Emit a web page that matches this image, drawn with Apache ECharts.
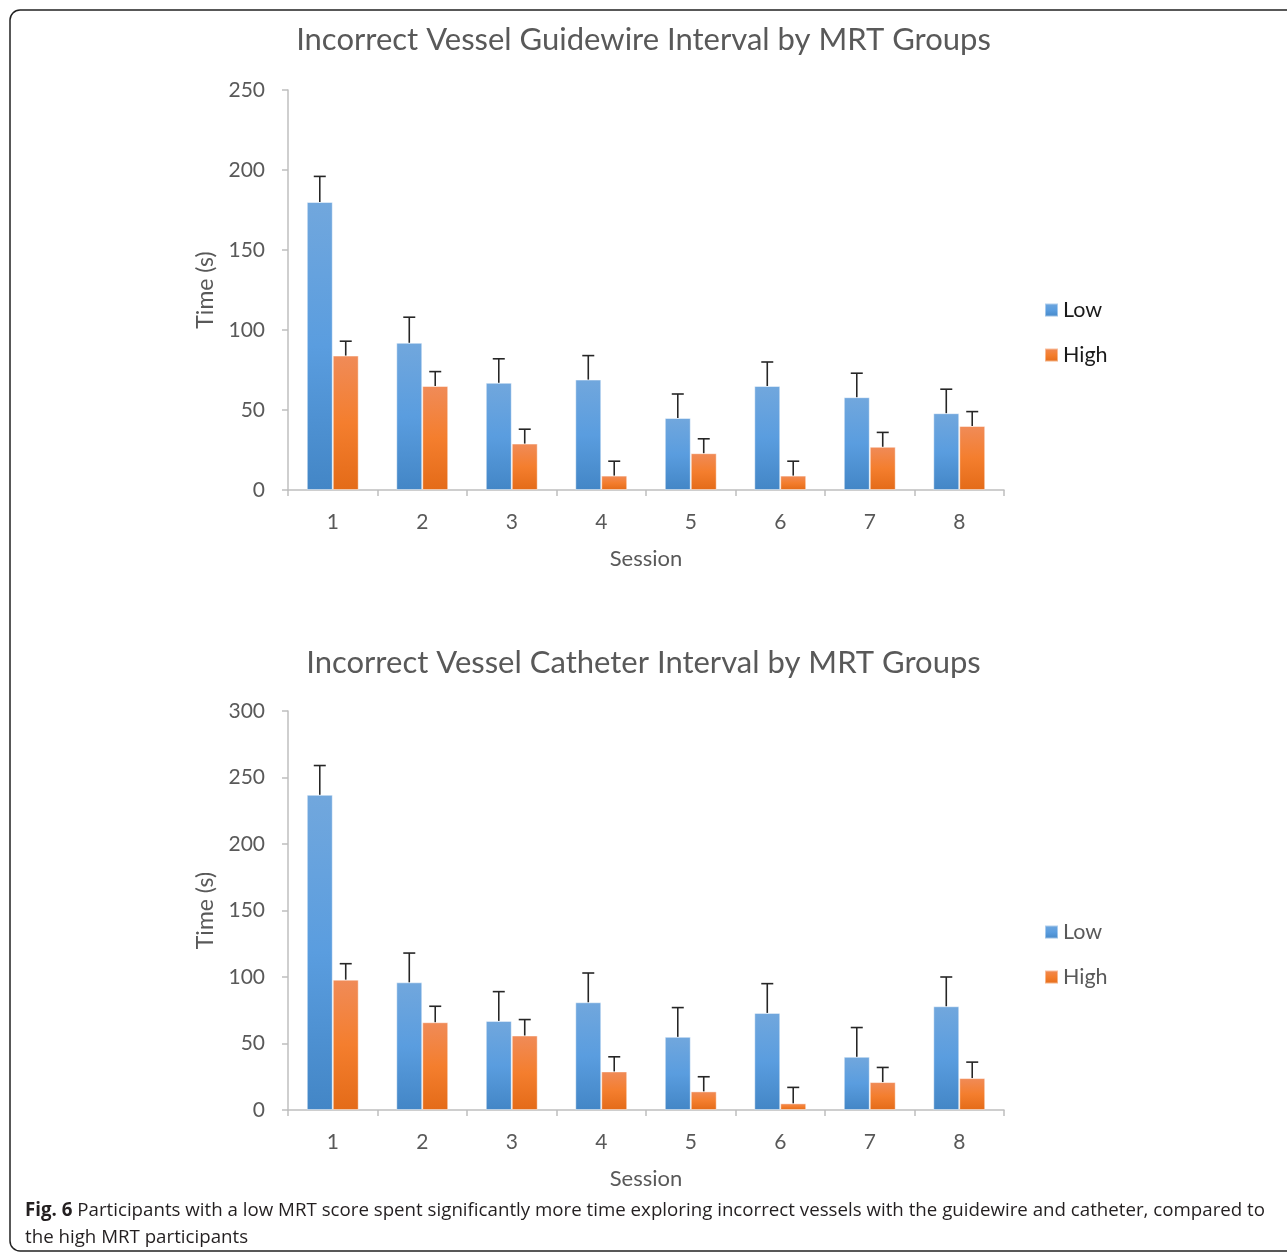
<!DOCTYPE html>
<html><head><meta charset="utf-8">
<script src="https://cdn.jsdelivr.net/npm/echarts@6/dist/echarts.min.js"></script>
<style>html,body{margin:0;padding:0;background:#fff}#c{width:1287px;height:1257px}</style>
</head><body><div id="c"></div>
<script>
// ---- data ----
var sessions = ['1','2','3','4','5','6','7','8'];
var seriesNames = ['Low','High'];
// Chart 1: Incorrect Vessel Guidewire Interval
var guideLow = [180, 92, 67, 69, 45, 65, 58, 48];
var guideLowErr = [16, 16, 15, 15, 15, 15, 15, 15];
var guideHigh = [84, 65, 29, 9, 23, 9, 27, 40];
var guideHighErr = [9, 9, 9, 9, 9, 9, 9, 9];
// Chart 2: Incorrect Vessel Catheter Interval
var cathLow = [237, 96, 67, 81, 55, 73, 40, 78];
var cathLowErr = [22, 22, 22, 22, 22, 22, 22, 22];
var cathHigh = [98, 66, 56, 29, 14, 5, 21, 24];
var cathHighErr = [12, 12, 12, 11, 11, 12, 11, 12];
var title1 = 'Incorrect Vessel Guidewire Interval by MRT Groups';
var title2 = 'Incorrect Vessel Catheter Interval by MRT Groups';
var captionBold = 'Fig. 6';
var captionLine1 = ' Participants with a low MRT score spent significantly more time exploring incorrect vessels with the guidewire and catheter, compared to';
var captionLine2 = 'the high MRT participants';

var chart = echarts.init(document.getElementById('c'));
var FONT = 'Lato';
var GRAY = '#595959';
var AXIS = '#bfbfbf';
var CAT_GAP = 0.42;

function grad(top, mid, bot) {
  return new echarts.graphic.LinearGradient(0, 0, 0, 1, [
    {offset: 0, color: top}, {offset: 0.5, color: mid}, {offset: 1, color: bot}]);
}
var blueFill = grad('#71a7dd', '#5a9ddf', '#4386c6');
var orangeFill = grad('#f08b58', '#f47e2e', '#e46b18');

function errSeries(idx, vals, errs, side) {
  return {
    type: 'custom', xAxisIndex: idx, yAxisIndex: idx, z: 5,
    data: vals.map(function (v, i) { return [i, v, v + errs[i]]; }),
    renderItem: function (params, api) {
      var band = api.size([1, 0])[0];
      var bw = band * (1 - CAT_GAP) / 2;
      var c = api.coord([api.value(0), api.value(1)]);
      var t = api.coord([api.value(0), api.value(2)]);
      var x = c[0] + side * bw / 2;
      var cap = 6;
      var st = {stroke: '#262626', lineWidth: 1.6};
      return {type: 'group', children: [
        {type: 'line', shape: {x1: x, y1: c[1], x2: x, y2: t[1]}, style: st},
        {type: 'line', shape: {x1: x - cap, y1: t[1], x2: x + cap, y2: t[1]}, style: st}
      ]};
    }
  };
}
function barSeries(idx, name, vals, fill) {
  return {
    type: 'bar', name: name, xAxisIndex: idx, yAxisIndex: idx, data: vals,
    barGap: '0%', barCategoryGap: (CAT_GAP * 100) + '%',
    itemStyle: {color: fill, borderColor: 'rgba(255,255,255,0.45)', borderWidth: 1}
  };
}
function xAx(idx) {
  return {
    type: 'category', gridIndex: idx, data: sessions,
    name: 'Session', nameLocation: 'middle', nameGap: 58,
    nameTextStyle: {fontFamily: FONT, fontSize: 22, color: GRAY},
    axisLine: {lineStyle: {color: AXIS, width: 1.5}},
    axisTick: {show: true, length: 6, lineStyle: {color: AXIS, width: 1.5}},
    axisLabel: {fontFamily: FONT, fontSize: 21, color: GRAY, margin: 22}
  };
}
function yAx(idx, max, interval) {
  return {
    type: 'value', gridIndex: idx, min: 0, max: max, interval: interval,
    name: 'Time (s)', nameLocation: 'middle', nameGap: 69, nameRotate: 90,
    nameTextStyle: {fontFamily: FONT, fontSize: 23, color: GRAY},
    axisLine: {show: true, lineStyle: {color: AXIS, width: 1.5}},
    axisTick: {show: true, length: 6, lineStyle: {color: AXIS, width: 1.5}},
    splitLine: {show: false},
    axisLabel: {fontFamily: FONT, fontSize: 21, color: GRAY, margin: 23}
  };
}

// caption width fitting (style only)
var cv = document.createElement('canvas').getContext('2d');
cv.font = 'bold 19px "Open Sans"';
var wb = cv.measureText(captionBold).width;
cv.font = '19px "Open Sans"';
var w1 = cv.measureText(captionLine1).width;
var sx = 1240 / (wb + w1);

chart.setOption({
  animation: false,
  title: [
    {text: title1, left: 'center', top: 19, textStyle: {fontFamily: FONT, fontSize: 31, fontWeight: 'normal', color: GRAY}},
    {text: title2, left: 'center', top: 642, textStyle: {fontFamily: FONT, fontSize: 31, fontWeight: 'normal', color: GRAY}}
  ],
  legend: [
    {data: seriesNames, orient: 'vertical', left: 1039, top: 294, itemGap: 23, itemWidth: 13, itemHeight: 13,
     icon: 'rect', textStyle: {fontFamily: FONT, fontSize: 21.5, color: '#1a1a1a'}},
    {data: seriesNames, orient: 'vertical', left: 1039, top: 916, itemGap: 23, itemWidth: 13, itemHeight: 13,
     icon: 'rect', textStyle: {fontFamily: FONT, fontSize: 21.5, color: GRAY}}
  ],
  grid: [
    {left: 288, top: 90, width: 716, height: 400},
    {left: 288, top: 711, width: 716, height: 399}
  ],
  xAxis: [xAx(0), xAx(1)],
  yAxis: [yAx(0, 250, 50), yAx(1, 300, 50)],
  series: [
    barSeries(0, 'Low', guideLow, blueFill),
    barSeries(0, 'High', guideHigh, orangeFill),
    errSeries(0, guideLow, guideLowErr, -1),
    errSeries(0, guideHigh, guideHighErr, 1),
    barSeries(1, 'Low', cathLow, blueFill),
    barSeries(1, 'High', cathHigh, orangeFill),
    errSeries(1, cathLow, cathLowErr, -1),
    errSeries(1, cathHigh, cathHighErr, 1)
  ],
  graphic: [
    {type: 'rect', shape: {x: 10, y: 10, width: 1300, height: 1241, r: 10},
     style: {fill: 'none', stroke: '#222', lineWidth: 1.5}, z: -1, silent: true},
    {type: 'text', x: 25, y: 1211, scaleX: sx, originX: 0,
     style: {text: '{b|' + captionBold + '}{n|' + captionLine1 + '}', verticalAlign: 'middle',
       rich: {b: {fontFamily: 'Open Sans', fontWeight: 'bold', fontSize: 19, fill: '#231f20'},
              n: {fontFamily: 'Open Sans', fontSize: 19, fill: '#231f20'}}}},
    {type: 'text', x: 25, y: 1238, scaleX: sx, originX: 0,
     style: {text: captionLine2, fontFamily: 'Open Sans', fontSize: 19, fill: '#231f20', verticalAlign: 'middle'}}
  ]
});
</script></body></html>
